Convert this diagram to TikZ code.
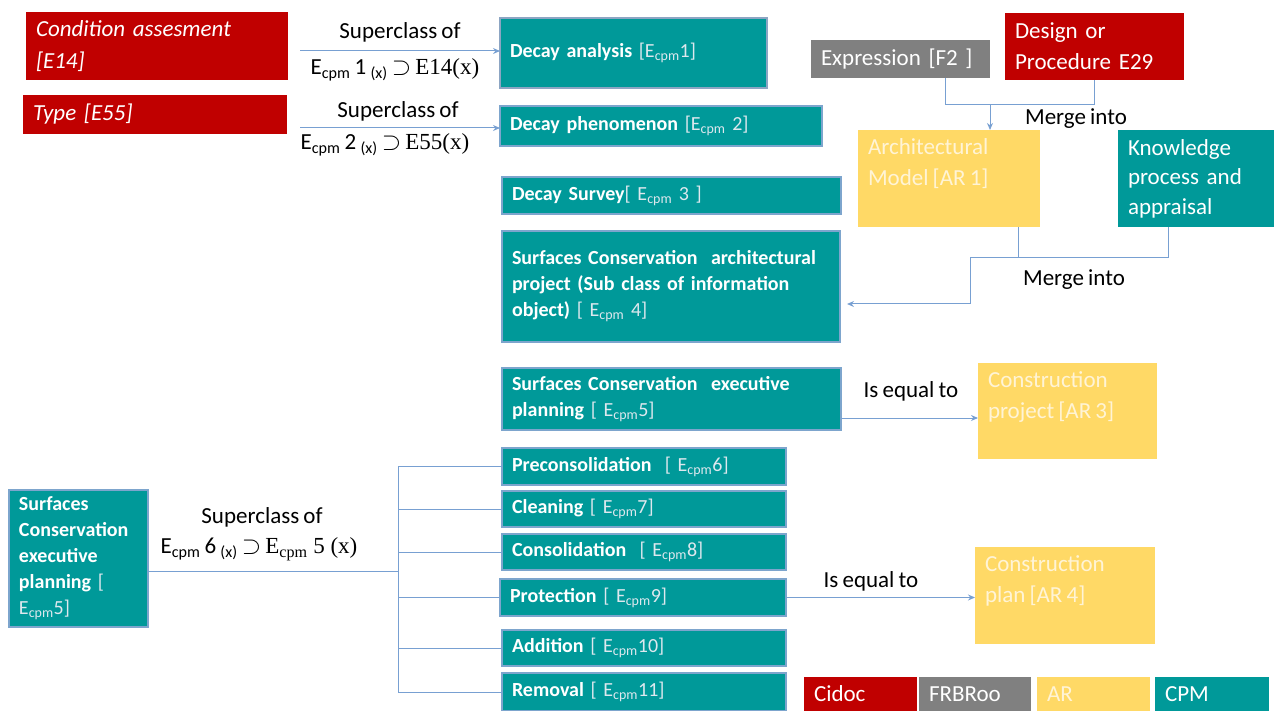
\documentclass[tikz,border=0pt]{standalone}
\usepackage{fontspec}
\setmainfont{Carlito}[WordSpace=0.8]
\newfontfamily\tnr{Liberation Serif}
\usetikzlibrary{arrows.meta}
\definecolor{cred}{RGB}{192,0,0}
\definecolor{cgray}{RGB}{128,128,128}
\definecolor{cyel}{RGB}{255,217,102}
\definecolor{cteal}{RGB}{0,153,153}
\definecolor{cedge}{RGB}{125,165,205}
\definecolor{cedgeb}{RGB}{140,165,195}
\definecolor{cline}{RGB}{120,160,210}
\definecolor{clight}{RGB}{222,232,238}
\definecolor{cpale}{RGB}{255,244,214}
\newcommand\szl{\fontsize{23}{30}\selectfont}
\newcommand\szr{\fontsize{23}{31}\selectfont}
\newcommand\szb{\fontsize{20}{26}\selectfont\bfseries}
\newcommand\lt[1]{{\mdseries\color{clight}#1}}
\newcommand\Ec{E\textsubscript{cpm}}
\begin{document}
\begin{tikzpicture}[x=1pt,y=-1pt,
  bx/.style={anchor=north west, inner xsep=10pt, inner ysep=0pt, align=left, outer sep=0pt},
  redb/.style={bx, fill=cred, text=white},
  grayb/.style={bx, fill=cgray, text=white},
  yelb/.style={bx, fill=cyel, text=cpale},
  tealb/.style={bx, fill=cteal, text=white, draw=cedge, line width=1.2pt},
  tealp/.style={bx, fill=cteal, text=white},
  lab/.style={font=\szl, text=black, inner sep=0pt},
  ln/.style={draw=cline, line width=1pt},
  arr/.style={ln, -{Stealth[length=7pt,width=6pt]}}
]
\useasboundingbox (0,0) rectangle (1274,711);

% red / gray source boxes
\node[redb, minimum width=262, minimum height=68, text width=242, font=\fontsize{23}{32}\selectfont\itshape] (cond) at (26,12) {Condition assesment\\{}[E14]};
\node[redb, minimum width=264, minimum height=39, text width=244, font=\szr\itshape] (type) at (23,95) {Type [E55]};
\node[grayb, minimum width=179, minimum height=38, text width=159, font=\szr] (ex) at (811,40) {Expression [F2 ]};
\node[redb, minimum width=179, minimum height=67, text width=159, font=\szr] (de) at (1005,13) {Design or\\Procedure E29};

% teal CPM boxes (top)
\node[tealb, draw=cedgeb, line width=2.5pt, minimum width=267, minimum height=70, text width=247, font=\szb] (da) at (500,18) {Decay analysis \lt{[\Ec1]}};
\node[tealb, minimum width=322, minimum height=40, text width=302, font=\szb] (dp) at (500,106) {Decay phenomenon \lt{[\Ec\ 2]}};
\node[tealb, minimum width=339, minimum height=37, text width=319, font=\szb] (ds) at (502,177) {Decay Survey\lt{[ \Ec\ 3 ]}};
\node[tealb, minimum width=338, minimum height=111, text width=318, font=\szb] (sa) at (502,231) {Surfaces Conservation\ \ architectural\\project (Sub class of information\\object) \lt{[ \Ec\ 4]}};
\node[tealb, minimum width=339, minimum height=62, text width=319, font=\szb] (se) at (502,368) {Surfaces Conservation\ \ executive\\planning \lt{[ \Ec5]}};

% AR and knowledge boxes
\node[yelb, minimum width=182, minimum height=97, font=\szr] (am) at (858,130) {\parbox[c][97pt][t]{162pt}{\vspace*{9pt}Architectural\\Model [AR 1]}};
\node[tealp, minimum width=156, minimum height=97, text width=136, font=\fontsize{23}{29.5}\selectfont] (kn) at (1118,130) {Knowledge\\process and\\appraisal};
\node[yelb, minimum width=179, minimum height=96, font=\szr] (cp) at (978,363) {\parbox[c][96pt][t]{159pt}{\vspace*{9pt}Construction\\project [AR 3]}};
\node[yelb, minimum width=180, minimum height=97, font=\szr] (cpl) at (975,547) {\parbox[c][97pt][t]{160pt}{\vspace*{9pt}Construction\\plan [AR 4]}};

% left box and sub classes
\node[tealb, minimum width=139, minimum height=137, text width=119, font=\szb] (lb) at (9,490) {Surfaces\\Conservation\\executive\\planning \lt{[}\\\lt{\Ec5]}};
\node[tealb, minimum width=284, minimum height=37, text width=264, font=\szb] (pc) at (502,448) {Preconsolidation\ \ \lt{[ \Ec6]}};
\node[tealb, minimum width=284, minimum height=36, text width=264, font=\szb] (cl) at (502,491) {Cleaning \lt{[ \Ec7]}};
\node[tealb, minimum width=284, minimum height=36, text width=264, font=\szb] (co) at (502,534) {Consolidation\ \ \lt{[ \Ec8]}};
\node[tealb, minimum width=286, minimum height=37, text width=266, font=\szb] (pr) at (500,579) {Protection \lt{[ \Ec9]}};
\node[tealb, minimum width=284, minimum height=36, text width=264, font=\szb] (ad) at (502,630) {Addition \lt{[ \Ec10]}};
\node[tealb, minimum width=284, minimum height=38, text width=264, font=\szb] (rm) at (502,673) {Removal \lt{[ \Ec11]}};

% legend
\node[redb, minimum width=113, minimum height=34, text width=93, font=\szr] (lgc) at (804,677) {Cidoc};
\node[grayb, minimum width=112, minimum height=34, text width=92, font=\szr] (lgf) at (919,677) {FRBRoo};
\node[yelb, minimum width=113, minimum height=34, text width=93, font=\szr] (lga) at (1037,677) {AR};
\node[tealp, minimum width=114, minimum height=34, text width=94, font=\szr] (lgp) at (1155,677) {CPM};

% labels
\node[lab] (l1) at (400,32) {Superclass of};
\node[lab] (f1) at (395,70) {\Ec\ 1 \textsubscript{(x)} $\supset$ {\tnr E14(x)}};
\node[lab] (l2) at (398,111) {Superclass of};
\node[lab] (f2) at (385,145) {\Ec\ 2 \textsubscript{(x)} $\supset$ {\tnr E55(x)}};
\node[lab] (mi1) at (1076,119) {Merge into};
\node[lab] (mi2) at (1074,280) {Merge into};
\node[lab] (eq1) at (911,391) {Is equal to};
\node[lab] (eq2) at (871,581) {Is equal to};
\node[lab] (l3) at (262,517) {Superclass of};
\node[lab] (f3) at (259,549) {\Ec\ 6 \textsubscript{(x)} $\supset$ {\tnr E\textsubscript{cpm} 5 (x)}};

% connectors
\coordinate (a1) at (300,51);
\coordinate (a2) at (300,128);
\draw[arr] (a1) -- (a1 -| da.west) ;
\draw[arr] (a2) -- (a2 -| dp.west);

\coordinate (m1) at (945,105);
\coordinate (m2) at (990,105);
\draw[ln] (ex.south -| m1) -- (m1) -- (m1 -| de.south) -- (de.south);
\draw[arr] (m2) -- (m2 |- am.north);

\coordinate (m3) at (1018,258);
\coordinate (m4) at (970,258);
\coordinate (m5) at (1168,258);
\coordinate (m6) at (970,304);
\draw[ln] (am.south -| m3) -- (m3);
\draw[ln] (kn.south -| m5) -- (m5) -- (m4);
\draw[arr, shorten >=7pt] (m4) -- (m6) -- (m6 -| sa.east);

\coordinate (e1) at (0,418);
\draw[arr] (se.east |- e1) -- (cp.west |- e1);
\draw[arr] (pr.east) -- (pr.east -| cpl.west);

\coordinate (t0) at (398,571);
\draw[ln] (lb.east |- t0) -- (t0);
\draw[ln] (t0 |- pc.west) -- (t0 |- rm.west);
\foreach \n in {pc,cl,co,pr,ad,rm} \draw[ln] (t0 |- \n.west) -- (\n.west);
\end{tikzpicture}
\end{document}
